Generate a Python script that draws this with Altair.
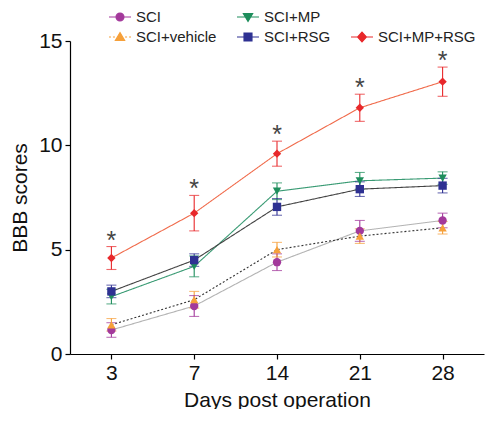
import altair as alt
import pandas as pd

days = ["3", "7", "14", "21", "28"]
groups = ["SCI", "SCI+vehicle", "SCI+MP", "SCI+RSG", "SCI+MP+RSG"]

sci_mean = [1.15, 2.3, 4.4, 5.9, 6.4]
sci_sd = [0.35, 0.5, 0.4, 0.5, 0.35]
veh_mean = [1.4, 2.6, 5.0, 5.65, 6.05]
veh_sd = [0.3, 0.4, 0.35, 0.35, 0.3]
mp_mean = [2.75, 4.2, 7.8, 8.3, 8.43]
mp_sd = [0.35, 0.5, 0.4, 0.4, 0.3]
rsg_mean = [3.0, 4.5, 7.05, 7.9, 8.07]
rsg_sd = [0.3, 0.3, 0.4, 0.35, 0.35]
both_mean = [4.6, 6.75, 9.6, 11.8, 13.05]
both_sd = [0.55, 0.85, 0.6, 0.65, 0.7]
star = ["*", "*", "*", "*", "*"]

means = [sci_mean, veh_mean, mp_mean, rsg_mean, both_mean]
sds = [sci_sd, veh_sd, mp_sd, rsg_sd, both_sd]

rows = []
for g, m, s in zip(groups, means, sds):
    for d, mv, sv in zip(days, m, s):
        rows.append({"group": g, "day": d, "mean": mv, "lo": mv - sv, "hi": mv + sv})
df = pd.DataFrame(rows)
stars = pd.DataFrame({"day": days, "hi": [m + s for m, s in zip(both_mean, both_sd)], "t": star})

FONT = "Liberation Sans"
marker_colors = ["#A3399B", "#F6A03A", "#1E8E5C", "#2E3192", "#E8282B"]
line_colors = ["#B3B3B3", "#333333", "#3A9B74", "#444444", "#F06A4A"]
dashes = [[1, 0], [2, 2], [1, 0], [1, 0], [1, 0]]
shapes = ["circle", "triangle-up", "triangle-down", "square", "diamond"]

xenc = alt.X("day:O", sort=days, scale=alt.Scale(type="point", padding=0.5),
             axis=alt.Axis(title="Days post operation", labelAngle=0))
yscale = alt.Scale(domain=[0, 15], nice=False)

lines = alt.Chart(df).mark_line(strokeWidth=1.1).encode(
    x=xenc,
    y=alt.Y("mean:Q", scale=yscale,
            axis=alt.Axis(title="BBB scores", values=[0, 5, 10, 15])),
    color=alt.Color("group:N", scale=alt.Scale(domain=groups, range=line_colors), legend=None),
    strokeDash=alt.StrokeDash("group:N", scale=alt.Scale(domain=groups, range=dashes), legend=None),
)

ecol = alt.Color("group:N", scale=alt.Scale(domain=groups, range=marker_colors), legend=None)
rules = alt.Chart(df).mark_rule(strokeWidth=1.1).encode(
    x=xenc, y=alt.Y("lo:Q", scale=yscale), y2="hi:Q", color=ecol)
caps = alt.Chart(df).transform_fold(["lo", "hi"], as_=["k", "v"]).mark_tick(
    size=10, thickness=1.1).encode(x=xenc, y=alt.Y("v:Q", scale=yscale), color=ecol)

points = alt.Chart(df).mark_point(filled=True, size=70, opacity=1).encode(
    x=xenc, y=alt.Y("mean:Q", scale=yscale), color=ecol,
    shape=alt.Shape("group:N", scale=alt.Scale(domain=groups, range=shapes), legend=None),
)

asterisks = alt.Chart(stars).mark_text(
    text="*", fontSize=25, font=FONT, color="#444444", baseline="alphabetic", dy=2
).encode(x=xenc, y=alt.Y("hi:Q", scale=yscale))

# legend (column-major grid with one blank slot so the layout matches)
leg_dom = ["SCI", "SCI+vehicle", "SCI+MP", "SCI+RSG", "", "SCI+MP+RSG"]
leg_col = ["#A3399B", "#F6A03A", "#1E8E5C", "#2E3192", "transparent", "#E8282B"]
L = "M-1,0L1,0"
LD = "M-1,0L-0.82,0M-0.64,0L-0.46,0M-0.28,0L-0.1,0M0.1,0L0.28,0M0.46,0L0.64,0M0.82,0L1,0"
leg_shapes = [
    L + "M-0.36,0A0.36,0.36 0 1,0 0.36,0A0.36,0.36 0 1,0 -0.36,0Z",
    LD + "M0,-0.4L0.42,0.32L-0.42,0.32Z",
    L + "M0,0.4L0.42,-0.32L-0.42,-0.32Z",
    L + "M-0.36,-0.36L0.36,-0.36L0.36,0.36L-0.36,0.36Z",
    "M0,0L0.01,0",
    L + "M0,-0.45L0.4,0L0,0.45L-0.4,0Z",
]
leg = alt.Legend(title=None, orient="none", legendX=38, legendY=-36, columns=3,
                 labelFontSize=15, labelFont=FONT, labelColor="#222222",
                 symbolSize=484, symbolStrokeWidth=1.2, columnPadding=17,
                 rowPadding=-7, labelOffset=4, symbolOpacity=1)
legend_layer = alt.Chart(df).transform_filter("false").mark_point(filled=True, opacity=1).encode(
    fill=alt.Fill("group:N", scale=alt.Scale(domain=leg_dom, range=leg_col), legend=leg),
    stroke=alt.Stroke("group:N", scale=alt.Scale(domain=leg_dom, range=leg_col), legend=leg),
    shape=alt.Shape("group:N", scale=alt.Scale(domain=leg_dom, range=leg_shapes), legend=leg),
)

chart = alt.layer(lines, rules, caps, points, asterisks, legend_layer).resolve_scale(
    color="independent", shape="independent", fill="independent", stroke="independent"
).properties(
    width=414, height=313,
    autosize=alt.AutoSizeParams(type="none"),
    padding={"left": 62, "top": 33, "right": 2, "bottom": 55},
).configure_view(stroke=None).configure_axis(
    grid=False, domainColor="#000000", tickColor="#000000", labelColor="#111111",
    titleColor="#111111", labelFont=FONT, titleFont=FONT, labelFontSize=21,
    titleFontSize=21, titleFontWeight="normal", tickSize=5, domainWidth=1.2,
    tickWidth=1.2, labelPadding=3,
).configure_axisX(titlePadding=6).configure_axisY(titlePadding=8)

chart.save("out.html", embed_options={"renderer": "svg", "actions": False})
